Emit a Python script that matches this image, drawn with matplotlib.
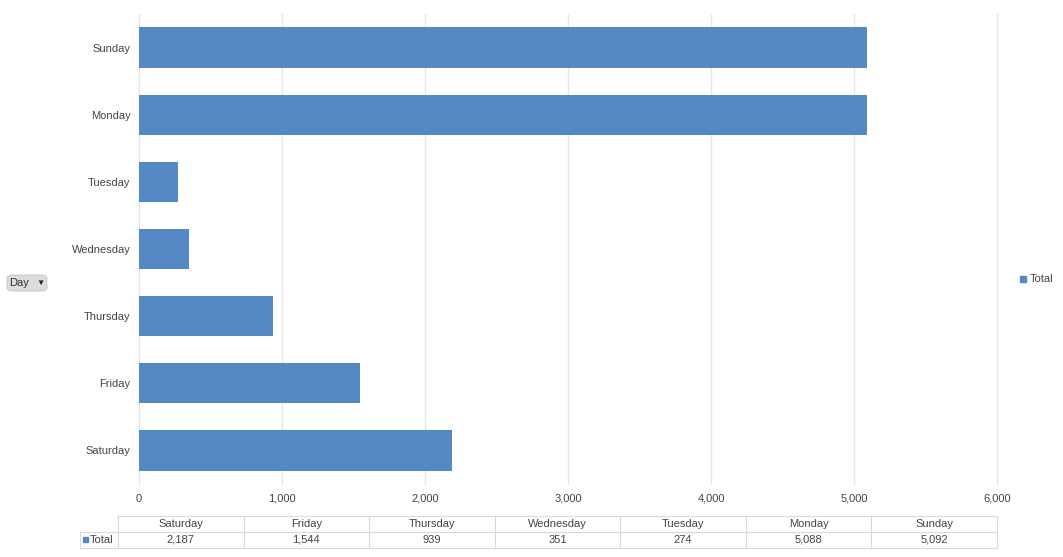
import matplotlib.pyplot as plt
from matplotlib.patches import FancyBboxPatch, Rectangle

days = ['Saturday', 'Friday', 'Thursday', 'Wednesday', 'Tuesday', 'Monday', 'Sunday']
totals = [2187, 1544, 939, 351, 274, 5088, 5092]
x_ticks = [0, 1000, 2000, 3000, 4000, 5000, 6000]
series_name = 'Total'
axis_field = 'Day'

bar_color = '#5589c6'
grid_color = '#e6e6e6'
text_color = '#444444'

plt.rcParams['font.family'] = ['Liberation Sans', 'DejaVu Sans']

fig = plt.figure(figsize=(10.63, 5.57), dpi=100)
W, H = 1063, 557


def fx(px):
    return px / W


def fy(py):
    return 1 - py / H


# main bar chart
ax = fig.add_axes([fx(139), fy(484), fx(997) - fx(139), fy(14) - fy(484)])
ypos = list(range(len(days)))
ax.barh(ypos, totals, height=0.6, color=bar_color, zorder=3)
ax.set_xlim(0, 6000)
ax.set_ylim(-0.5, len(days) - 0.5)
ax.set_xticks(x_ticks)
ax.set_xticklabels([f'{v:,}' for v in x_ticks])
ax.set_yticks(ypos)
ax.set_yticklabels(days)
ax.tick_params(length=0, labelsize=8, labelcolor=text_color)
ax.tick_params(axis='x', pad=7)
ax.tick_params(axis='y', pad=6)
for s in ax.spines.values():
    s.set_visible(False)
ax.grid(axis='x', color=grid_color, linewidth=1, zorder=0)
for g in ax.get_xgridlines():
    g.set_clip_on(False)

# legend on the right
fig.patches.append(Rectangle((fx(1020), fy(282)), fx(6), 6 / H, color=bar_color,
                             transform=fig.transFigure))
fig.text(fx(1030), fy(279), series_name, fontsize=8, color=text_color, va='center')

# "Day" field button
btn = FancyBboxPatch((fx(7), fy(291)), fx(40), 16 / H,
                     boxstyle='round,pad=0,rounding_size=0.006',
                     facecolor='#dcdcdc', edgecolor='#c4c4c4', linewidth=0.6,
                     transform=fig.transFigure)
fig.patches.append(btn)
fig.text(fx(9), fy(283.5), axis_field, fontsize=8, color='#333333', va='center')
fig.text(fx(36), fy(283.5), '\u25bc', fontsize=6, color='#222222', va='center')

# data table under the chart
tab = fig.add_axes([fx(80), fy(548), fx(997) - fx(80), fy(516) - fy(548)])
tab.set_xlim(80, 997)
tab.set_ylim(548, 516)
tab.axis('off')
line_c = '#dadada'
left, col0, right = 80, 118, 997
cw = (right - col0) / len(days)
tab.plot([col0, right], [516, 516], color=line_c, lw=0.8, clip_on=False)
tab.plot([left, right], [532, 532], color=line_c, lw=0.8, clip_on=False)
tab.plot([left, right], [548, 548], color=line_c, lw=0.8, clip_on=False)
tab.plot([left, left], [532, 548], color=line_c, lw=0.8, clip_on=False)
for i in range(len(days) + 1):
    xx = col0 + i * cw
    tab.plot([xx, xx], [516, 548], color=line_c, lw=0.8, clip_on=False)
for i, (d, v) in enumerate(zip(days, totals)):
    cx = col0 + (i + 0.5) * cw
    tab.text(cx, 524, d, ha='center', va='center', fontsize=8, color=text_color)
    tab.text(cx, 540, f'{v:,}', ha='center', va='center', fontsize=8, color=text_color)
tab.add_patch(Rectangle((83, 537), 5, 5, color=bar_color))
tab.text(90, 540, series_name, ha='left', va='center', fontsize=8, color=text_color)

fig.savefig('out.png', dpi=100, facecolor='white')
